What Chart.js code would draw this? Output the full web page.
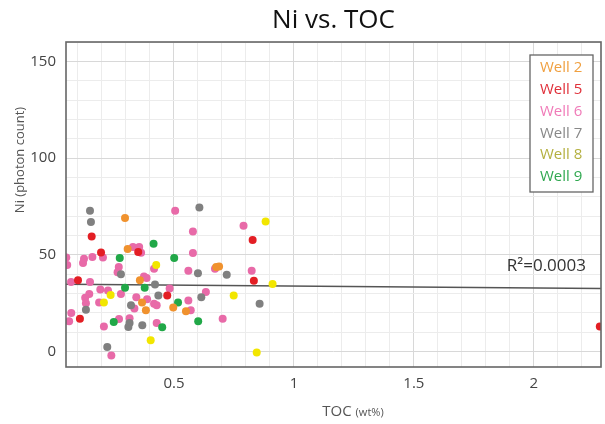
<!DOCTYPE html>
<html>
<head>
<meta charset="utf-8">
<script src="https://cdn.jsdelivr.net/npm/chart.js@4"></script>
<style>
  html, body { margin: 0; padding: 0; background: #fff; }
  #wrap { width: 605px; height: 424px; }
</style>
</head>
<body>
<div id="wrap"><canvas id="niChart" width="605" height="424"></canvas></div>
<script>
// data: [TOC wt%, Ni photon count]
const wellLabels = ['Well 2', 'Well 5', 'Well 6', 'Well 7', 'Well 8', 'Well 9'];
const pointColors = ['#f0922e', '#e31e24', '#e86aa8', '#808080', '#f2e600', '#21a848'];
const legendColors = ['#f0a040', '#e0303a', '#f07ab8', '#888888', '#b4b040', '#30a850'];

const well2 = [[0.296, 69], [0.307, 53], [0.358, 36.8], [0.367, 25.4], [0.383, 21.3],
  [0.497, 22.7], [0.55, 20.8], [0.676, 43.7], [0.688, 44]];
const well5 = [[0.157, 59.4], [0.351, 51.4], [0.196, 51.2], [0.1, 36.8], [0.472, 29],
  [0.108, 17], [0.828, 57.7], [0.833, 36.6], [2.275, 12.9]];
const well6 = [[0.505, 72.8], [0.579, 62], [0.329, 54], [0.355, 54], [0.363, 51],
  [0.204, 48.6], [0.16, 48.8], [0.125, 48], [0.121, 45.7], [0.051, 48.6], [0.055, 44.7],
  [0.579, 50.9], [0.417, 42.8], [0.56, 41.8], [0.27, 43.7], [0.265, 41], [0.375, 38.8],
  [0.386, 38], [0.071, 36], [0.15, 36], [0.482, 32.6], [0.193, 32], [0.225, 31.6],
  [0.279, 29.7], [0.147, 29.7], [0.13, 27.8], [0.633, 30.8], [0.343, 28], [0.388, 27],
  [0.56, 26.4], [0.188, 25.4], [0.133, 25], [0.417, 24.7], [0.428, 23.9], [0.335, 22.3],
  [0.57, 21.3], [0.072, 19.9], [0.063, 15.6], [0.315, 17.2], [0.271, 16.8], [0.428, 14.8],
  [0.208, 13], [0.239, -2], [0.79, 65], [0.671, 42.8], [0.824, 41.8], [0.703, 17]];
const well7 = [[0.15, 72.8], [0.154, 67], [0.606, 74.5], [0.6, 40.5], [0.279, 39.9],
  [0.421, 34.7], [0.435, 28.9], [0.614, 28], [0.321, 23.9], [0.133, 21.6], [0.315, 14.8],
  [0.31, 12.7], [0.368, 13.6], [0.222, 2.4], [0.72, 39.7], [0.857, 24.7]];
const well8 = [[0.426, 44.7], [0.236, 29.2], [0.208, 25.4], [0.403, 5.8], [0.882, 67.2],
  [0.911, 34.9], [0.749, 29], [0.845, -0.5]];
const well9 = [[0.415, 55.7], [0.274, 48.3], [0.501, 48.3], [0.296, 33], [0.378, 33],
  [0.517, 25.4], [0.249, 15.3], [0.451, 12.5], [0.601, 15.6]];

// draw order: pink on top of the others, like the picture
const wellOrder = [0, 1, 3, 4, 5, 2];

const trendLine = [[0.05, 34.8], [2.28, 32.6]];
const rSquaredText = 'R\u00b2=0.0003';

const xRange = [0.05, 2.28];
const yRange = [-8, 160];
const xTickLabels = [0.5, 1, 1.5, 2];
const yTickLabels = [0, 50, 100, 150];
const xGridStep = 0.1;
const yGridStep = 10;

const FONT = '"Open Sans", "DejaVu Sans", sans-serif';

function toPoints(rows) {
  return rows.map(([x, y]) => ({ x, y }));
}

function isMultiple(value, step) {
  const r = value / step;
  return Math.abs(r - Math.round(r)) < 1e-6;
}

function gridTicks(range, step) {
  const ticks = [];
  const first = Math.ceil(range[0] / step - 1e-9);
  const last = Math.floor(range[1] / step + 1e-9);
  for (let i = first; i <= last; i++) {
    ticks.push({ value: Math.round(i * step * 1000) / 1000 });
  }
  return ticks;
}

// title, axis titles, R² label, legend box and frame
const decorPlugin = {
  id: 'decor',
  afterDatasetsDraw(chart) {
    const { ctx, chartArea: a } = chart;
    ctx.save();

    ctx.fillStyle = '#333';
    ctx.font = '17px ' + FONT;
    ctx.textAlign = 'right';
    ctx.textBaseline = 'middle';
    ctx.fillText(rSquaredText, a.right - 15, 266);

    // legend
    const lx = 530, ly = 55, lw = 63, lh = 137;
    ctx.fillStyle = '#fff';
    ctx.fillRect(lx, ly, lw, lh);
    ctx.strokeStyle = '#666';
    ctx.lineWidth = 1.3;
    ctx.strokeRect(lx, ly, lw, lh);
    ctx.font = '15px ' + FONT;
    ctx.textAlign = 'left';
    wellLabels.forEach((label, i) => {
      ctx.fillStyle = legendColors[i];
      ctx.fillText(label, lx + 10, ly + 13 + i * 21.8);
    });

    // plot frame
    ctx.strokeStyle = '#666';
    ctx.lineWidth = 1.6;
    ctx.strokeRect(a.left, a.top, a.right - a.left, a.bottom - a.top);
    ctx.restore();
  },
  afterDraw(chart) {
    const { ctx, chartArea: a } = chart;
    ctx.save();
    ctx.fillStyle = '#111';
    ctx.font = '26px ' + FONT;
    ctx.textAlign = 'center';
    ctx.textBaseline = 'middle';
    ctx.fillText('Ni vs. TOC', (a.left + a.right) / 2, 21);

    ctx.fillStyle = '#555';
    ctx.font = '13px ' + FONT;
    ctx.translate(20, 160);
    ctx.rotate(-Math.PI / 2);
    ctx.fillText('Ni (photon count)', 0, 0);
    ctx.restore();

    ctx.save();
    ctx.fillStyle = '#555';
    ctx.textBaseline = 'middle';
    ctx.textAlign = 'left';
    const big = 'TOC ';
    ctx.font = '15px ' + FONT;
    const w1 = ctx.measureText(big).width;
    ctx.font = '11px ' + FONT;
    const w2 = ctx.measureText('(wt%)').width;
    const x0 = 353 - (w1 + w2) / 2;
    ctx.font = '15px ' + FONT;
    ctx.fillText(big, x0, 412);
    ctx.font = '11px ' + FONT;
    ctx.fillText('(wt%)', x0 + w1, 413);
    ctx.restore();
  },
};

function buildDatasets() {
  const allWells = [well2, well5, well6, well7, well8, well9];
  const sets = wellOrder.map((idx) => ({
    label: wellLabels[idx],
    data: toPoints(allWells[idx]),
    backgroundColor: pointColors[idx],
    borderWidth: 0,
    pointRadius: 4,
  }));
  sets.push({
    type: 'line',
    label: 'trend',
    data: toPoints(trendLine),
    borderColor: '#555',
    borderWidth: 1.5,
    pointRadius: 0,
  });
  return sets;
}

new Chart(document.getElementById('niChart').getContext('2d'), {
  type: 'scatter',
  data: { datasets: buildDatasets() },
  options: {
    responsive: false,
    animation: false,
    layout: { padding: { left: 0, right: 2, top: 42, bottom: 0 } },
    plugins: {
      legend: { display: false },
      tooltip: { enabled: false },
    },
    scales: {
      x: {
        type: 'linear',
        min: xRange[0],
        max: xRange[1],
        afterBuildTicks: (s) => { s.ticks = gridTicks(xRange, xGridStep); },
        afterFit: (s) => { s.height = 57; },
        border: { display: false },
        grid: {
          drawTicks: false,
          color: (c) => (xTickLabels.includes(c.tick.value) ? '#d8d8d8' : '#ececec'),
        },
        ticks: {
          autoSkip: false,
          maxRotation: 0,
          padding: 8,
          color: '#444',
          font: { family: FONT, size: 15 },
          callback: (v) => (xTickLabels.includes(v) ? String(v) : ''),
        },
      },
      y: {
        type: 'linear',
        min: yRange[0],
        max: yRange[1],
        afterBuildTicks: (s) => { s.ticks = gridTicks(yRange, yGridStep); },
        afterFit: (s) => { s.width = 66; },
        border: { display: false },
        grid: {
          drawTicks: false,
          color: (c) => (yTickLabels.includes(c.tick.value) ? '#d8d8d8' : '#ececec'),
        },
        ticks: {
          autoSkip: false,
          padding: 10,
          color: '#444',
          font: { family: FONT, size: 15 },
          callback: (v) => (yTickLabels.includes(v) ? String(v) : ''),
        },
      },
    },
  },
  plugins: [decorPlugin],
});
</script>
</body>
</html>
